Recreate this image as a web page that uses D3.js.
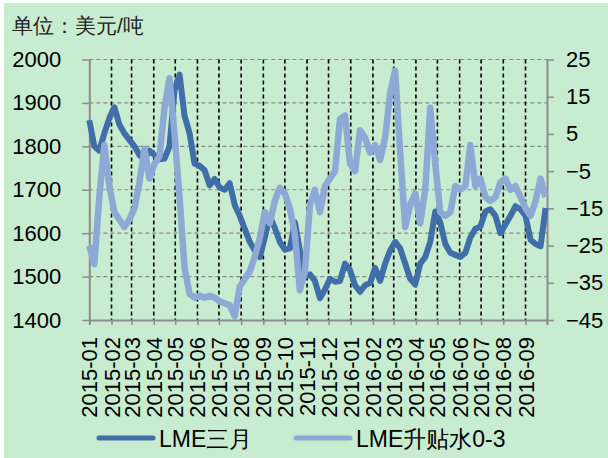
<!DOCTYPE html>
<html>
<head>
<meta charset="utf-8">
<script src="https://cdn.jsdelivr.net/npm/d3@7"></script>
<style>
	body { margin: 0; background: #fff; }
	text { font-family: 'Liberation Sans', Arial, sans-serif; }
</style>
</head>
<body>
<div id="chart"></div>
<script>
	'use strict';
	// weekly samples, first week starts 2015-01-01
	var startDay = new Date(2015, 0, 1),
		endDay = new Date(2016, 9, 1);
	var monthLabels = ['2015-01', '2015-02', '2015-03', '2015-04', '2015-05', '2015-06', '2015-07',
		'2015-08', '2015-09', '2015-10', '2015-11', '2015-12', '2016-01', '2016-02', '2016-03',
		'2016-04', '2016-05', '2016-06', '2016-07', '2016-08', '2016-09'];
	var leftTicks = [1400, 1500, 1600, 1700, 1800, 1900, 2000];
	var rightTicks = [-45, -35, -25, -15, -5, 5, 15, 25];
	var seriesNames = ['LME三月', 'LME升贴水0-3'];
	// LME三月, USD/t (left axis)
	var lme3m = [1860, 1800, 1790, 1830, 1865, 1890, 1850, 1830, 1815, 1800,
		1780, 1770, 1790, 1780, 1770, 1772, 1800, 1930, 1965, 1870,
		1830, 1760, 1755, 1745, 1710, 1725, 1705, 1700, 1715, 1665,
		1640, 1610, 1580, 1560, 1545, 1590, 1640, 1612, 1580, 1562,
		1565, 1625, 1560, 1500, 1505, 1490, 1450, 1470, 1495, 1488,
		1490, 1530, 1515, 1480, 1465, 1480, 1485, 1520, 1490, 1530,
		1560, 1580, 1565, 1530, 1495, 1482, 1530, 1545, 1580, 1650,
		1625, 1575, 1555, 1550, 1545, 1555, 1590, 1610, 1615, 1650,
		1655, 1640, 1600, 1620, 1640, 1662, 1655, 1640, 1585, 1575,
		1570, 1658];
	// LME升贴水0-3 (right axis)
	var spread03 = [-25, -30, -12, 2, -9, -16, -18, -20, -18, -15,
		-8, 1, -7, -3, -1, 12, 20, 5, -12, -31,
		-38, -39, -38.5, -39, -38.5, -39, -40, -40.5, -41, -44,
		-36, -34, -32, -28, -23, -16, -19, -13, -9.5, -11,
		-15, -22, -37, -32, -14, -10, -16, -9, -7, -5,
		9, 10, -3, -5, 6, 4, 0, 2, -2, 4,
		16, 22, 0, -20, -14, -11, -19, -10, 12, -3,
		-16, -17, -16, -9, -10, -9, 2, -9, -7, -12,
		-13, -12, -8, -7, -10, -9, -12, -15, -17, -13,
		-7, -12];

	var W = 608, H = 458;
	var margin = {top: 59.5, right: 61, bottom: 138, left: 89.3},
		width = W - margin.left - margin.right,
		height = H - margin.top - margin.bottom;

	var weeks = d3.timeDay.range(startDay, endDay, 7);
	var parseMonth = d3.timeParse('%Y-%m');
	var months = monthLabels.map(function (m) { return parseMonth(m); });

	var svg = d3.select('#chart').append('svg')
		.attr('width', W)
		.attr('height', H);

	svg.append('rect')
		.attr('x', 4).attr('y', 3)
		.attr('width', W - 4).attr('height', H - 3)
		.attr('fill', '#c8ecd0');

	svg.append('text')
		.attr('x', 12).attr('y', 33)
		.attr('font-size', 21)
		.attr('fill', '#222')
		.text('单位：美元/吨');

	var g = svg.append('g')
		.attr('transform', 'translate(' + margin.left + ',' + margin.top + ')');

	var x = d3.scaleTime().domain([startDay, endDay]).range([0, width]);
	var yL = d3.scaleLinear().domain([1400, 2000]).range([height, 0]);
	var yR = d3.scaleLinear().domain([-45, 25]).range([height, 0]);

	// horizontal grid
	g.append('g').selectAll('line')
		.data(leftTicks.slice(1))
		.enter().append('line')
		.attr('x1', 0).attr('x2', width)
		.attr('y1', function (d) { return yL(d); })
		.attr('y2', function (d) { return yL(d); })
		.attr('stroke', '#8a8a8a')
		.attr('stroke-width', 1.2)
		.attr('stroke-dasharray', '4,3');

	// vertical month grid
	g.append('g').selectAll('line')
		.data(months.slice(1))
		.enter().append('line')
		.attr('x1', function (d) { return x(d); })
		.attr('x2', function (d) { return x(d); })
		.attr('y1', 0).attr('y2', height)
		.attr('stroke', '#000')
		.attr('stroke-width', 1.6)
		.attr('stroke-dasharray', '4,3');

	// axes
	var axisColor = '#8c8c8c';
	var xAxis = g.append('g')
		.attr('transform', 'translate(0,' + height + ')')
		.call(d3.axisBottom(x).tickValues(months.concat([endDay])).tickSize(5).tickFormat(''));
	xAxis.selectAll('line').attr('stroke', axisColor).attr('stroke-width', 1.5);
	xAxis.select('.domain').attr('stroke', axisColor).attr('stroke-width', 2);

	g.append('g').selectAll('text')
		.data(months)
		.enter().append('text')
		.attr('transform', function (d) {
			return 'translate(' + (x(d) + 8) + ',' + (height + 17) + ') rotate(-90)';
		})
		.attr('text-anchor', 'end')
		.attr('font-size', 22)
		.attr('fill', '#000')
		.text(function (d, i) { return monthLabels[i]; });

	var leftAxis = g.append('g')
		.call(d3.axisLeft(yL).tickValues(leftTicks).tickFormat(d3.format('d'))
			.tickSize(7).tickPadding(21).tickSizeOuter(0));
	leftAxis.selectAll('line').attr('stroke', axisColor).attr('stroke-width', 1.5);
	leftAxis.select('.domain').attr('stroke', axisColor).attr('stroke-width', 2);
	leftAxis.selectAll('text')
		.attr('font-size', 22).attr('fill', '#000')
		.attr('font-family', "'Liberation Sans', Arial, sans-serif");

	var rightAxis = g.append('g')
		.attr('transform', 'translate(' + width + ',0)')
		.call(d3.axisRight(yR).tickValues(rightTicks).tickSize(7).tickPadding(12).tickSizeOuter(0));
	rightAxis.selectAll('line').attr('stroke', axisColor).attr('stroke-width', 1.5);
	rightAxis.select('.domain').attr('stroke', axisColor).attr('stroke-width', 2);
	rightAxis.selectAll('text')
		.attr('font-size', 22).attr('fill', '#000')
		.attr('font-family', "'Liberation Sans', Arial, sans-serif");

	// lines
	var colors = ['#3f6ea8', '#8ea9d5'];
	var lineL = d3.line()
		.x(function (d, i) { return x(weeks[i]); })
		.y(function (d) { return yL(d); });
	var lineR = d3.line()
		.x(function (d, i) { return x(weeks[i]); })
		.y(function (d) { return yR(d); });

	g.append('path')
		.datum(lme3m)
		.attr('d', lineL)
		.attr('fill', 'none')
		.attr('stroke', colors[0])
		.attr('stroke-width', 6)
		.attr('stroke-linejoin', 'round');

	g.append('path')
		.datum(spread03)
		.attr('d', lineR)
		.attr('fill', 'none')
		.attr('stroke', colors[1])
		.attr('stroke-width', 6.5)
		.attr('stroke-linejoin', 'round');

	// legend
	var legendX = [99, 296];
	var legend = svg.append('g').selectAll('g')
		.data(seriesNames)
		.enter().append('g')
		.attr('transform', function (d, i) { return 'translate(' + legendX[i] + ',438)'; });
	legend.append('line')
		.attr('x1', 0).attr('x2', 54)
		.attr('stroke', function (d, i) { return colors[i]; })
		.attr('stroke-width', 5)
		.attr('stroke-linecap', 'round');
	legend.append('text')
		.attr('x', 60).attr('y', 8.5)
		.attr('font-size', 23)
		.attr('fill', '#000')
		.text(function (d) { return d; });
</script>
</body>
</html>
